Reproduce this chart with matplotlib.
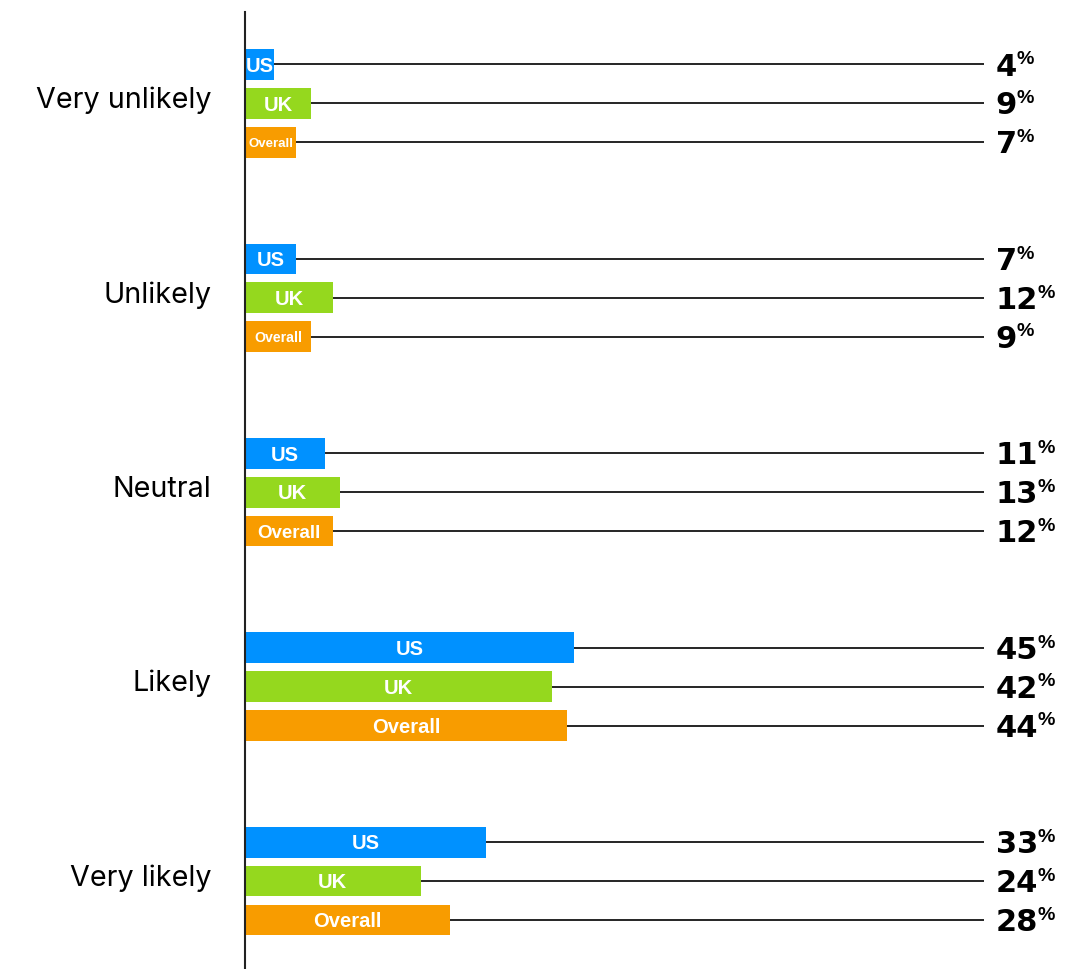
import matplotlib
matplotlib.use("Agg")
import matplotlib.pyplot as plt
from matplotlib.transforms import ScaledTranslation

# -----------------------------
# Data
# -----------------------------

categories = ["Very unlikely", "Unlikely", "Neutral", "Likely", "Very likely"]
series_names = ["US", "UK", "Overall"]
us = [4, 7, 11, 45, 33]
uk = [9, 12, 13, 42, 24]
overall = [7, 9, 12, 44, 28]
colors = ["#0091FF", "#95D81E", "#F89C00"]

plt.rcParams["font.family"] = ["Inter", "DejaVu Sans"]

# -----------------------------
# Layout
# -----------------------------

W, H = 1087, 969
fig = plt.figure(figsize=(W / 100, H / 100), dpi=100)
ax = fig.add_axes([245 / W, 0, (984 - 245) / W, 957 / H])

x_max = 101
group_gap = 5
ax.set_xlim(0, x_max)
ax.set_ylim(22.26, -2.35)
px_per_unit = (984 - 245) / x_max

offsets = [-1, 0, 1]
for k, (name, vals, c) in enumerate(zip(series_names, [us, uk, overall], colors)):
    ys = [i * group_gap + offsets[k] for i in range(len(categories))]
    ax.barh(ys, vals, height=0.79, color=c, zorder=2)
    ax.hlines(ys, vals, x_max, color="black", lw=1.2, zorder=1)
    for y, v in zip(ys, vals):
        # shrink the in-bar label when the bar is short
        bar_px = v * px_per_unit
        fs = min(14.5, max(9.5, 1.5 * bar_px / len(name) * 0.72))
        ax.annotate(name, xy=(v / 2, y), xytext=(0, -fs * 0.358),
                    textcoords="offset points", ha="center", va="baseline",
                    color="white", fontsize=fs, fontweight="bold",
                    family="Liberation Sans", zorder=3)
        num = ax.annotate(str(v), xy=(1, y), xycoords=("axes fraction", "data"),
                          xytext=(8.5, -8.0), textcoords="offset points",
                          ha="left", va="baseline", fontsize=22,
                          fontweight="bold", family="DejaVu Sans",
                          annotation_clip=False)
        ax.annotate("%", xy=(1, 1), xycoords=num, xytext=(-0.5, 1.0),
                    textcoords="offset points", ha="left", va="top",
                    fontsize=14, fontweight="bold", family="Liberation Sans",
                    annotation_clip=False)

ax.set_yticks([i * group_gap for i in range(len(categories))])
ax.set_yticklabels(categories, fontsize=20.7)
ax.tick_params(axis="y", length=0, pad=24)
ax.set_xticks([])
for lab in ax.get_yticklabels():
    lab.set_transform(lab.get_transform() + ScaledTranslation(0, 0.06, fig.dpi_scale_trans))

for side in ["top", "right", "bottom"]:
    ax.spines[side].set_visible(False)
ax.spines["left"].set_linewidth(1.5)
ax.spines["left"].set_color("#222222")

fig.savefig("out.png", dpi=100)
